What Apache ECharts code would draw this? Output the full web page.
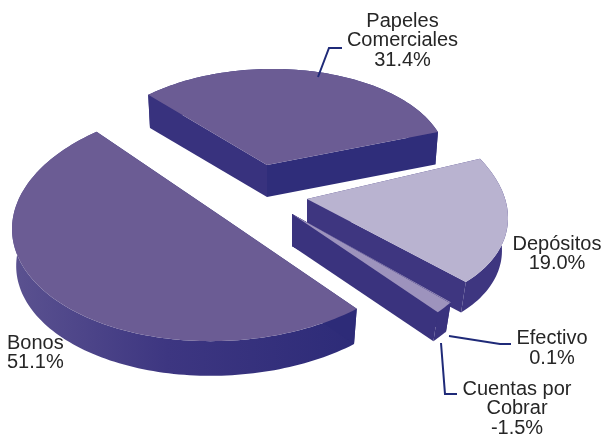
<!DOCTYPE html>
<html>
<head>
<meta charset="utf-8">
<style>html,body{margin:0;padding:0;background:#fff}#chart{width:603px;height:434px}</style>
<script src="https://cdn.jsdelivr.net/npm/echarts@6/dist/echarts.min.js"></script>
</head>
<body>
<div id="chart"></div>
<script>
// Composition of the portfolio, in percent
var sliceNames = ['Bonos', 'Papeles Comerciales', 'Depósitos', 'Efectivo', 'Cuentas por Cobrar'];
var sliceShares = [51.1, 31.4, 19.0, 0.1, -1.5];

// Text blocks shown beside the slices
var labelLines = [
  ['Bonos', '51.1%'],
  ['Papeles', 'Comerciales', '31.4%'],
  ['Depósitos', '19.0%'],
  ['Efectivo', '0.1%'],
  ['Cuentas por', 'Cobrar', '-1.5%']
];

// Projection of each exploded slice: centre, ellipse radii, shear, first angle, thickness, taper.
// The large slice folds at tipX/tipY so that its cut edge reads as one straight line.
var sliceFrames = [
  { cx: 221, cy: 223, a: 209, b: 118, k: -6, start: -49.5, depth: 37, taper: 0.98, tipX: 226, tipY: 219.5 },
  { cx: 267, cy: 165, a: 180, b: 96,  k: -3, start: 131.3, depth: 32, taper: 0.985 },
  { cx: 307, cy: 199, a: 201, b: 111, k: 19, start: 30.6,  depth: 33, taper: 0.97 },
  { cx: 292, cy: 214, a: 200, b: 136, k: 7,  start: -37.44, depth: 32, taper: 0.97 },
  { cx: 292, cy: 214, a: 200, b: 136, k: 7,  start: -37.8, depth: 32, taper: 0.97 }
];

var bondWall = new echarts.graphic.LinearGradient(0, 0, 1, 0, [
  { offset: 0, color: '#5b5290' },
  { offset: 0.45, color: '#3d3681' },
  { offset: 1, color: '#2d2b78' }
]);
var sliceStyles = [
  { top: '#6b5c94', arc: bondWall, near: '#2d2b78', far: '#2d2b78' },
  { top: '#6b5c94', arc: '#35307c', near: '#2f2d7a', far: '#38327e' },
  { top: '#b9b3d0', arc: '#3e3680', near: '#3e3680', far: '#3e3680' },
  { top: '#9d93bd', arc: '#3a337e', near: '#3a337e', far: '#3a337e' },
  { top: '#9d93bd', arc: '#3a337e', near: '#3a337e', far: '#3a337e' }
];

// Label placement: anchor point, alignment
var labelPlaces = [
  { x: 7, y: 343, align: 'left' },
  { x: 402.5, y: 21, align: 'center' },
  { x: 557, y: 244, align: 'center' },
  { x: 552, y: 338.5, align: 'center' },
  { x: 517, y: 389, align: 'center' }
];
var lineHeight = 19.5;

// Leader lines from slices to their labels
var leaders = [
  [[318, 77], [329, 48], [342, 48]],
  [[449, 336], [500, 344], [511, 344]],
  [[441, 343], [445, 394], [457, 394]]
];

function onRim(f, deg, lower) {
  var t = deg * Math.PI / 180, s = lower ? f.taper : 1;
  return [
    f.cx + s * f.a * Math.cos(t),
    f.cy + (lower ? f.depth : 0) + s * (f.k * Math.cos(t) - f.b * Math.sin(t))
  ];
}

function renderSlice(params, api) {
  var i = api.value(0);
  var share = api.value(1);
  var f = sliceFrames[i], st = sliceStyles[i];
  var sweep = Math.abs(share) / 100 * 360;
  var steps = Math.max(2, Math.ceil(sweep / 1.5));
  var topArc = [], lowArc = [];
  for (var n = 0; n <= steps; n++) {
    var deg = f.start - sweep * n / steps;
    topArc.push(onRim(f, deg, false));
    lowArc.push(onRim(f, deg, true));
  }
  var tipX = f.tipX === undefined ? f.cx : f.tipX;
  var tipY = f.tipY === undefined ? f.cy : f.tipY;
  var apex = [tipX, tipY], lowApex = [tipX, tipY + f.depth];
  var poly = function (points, fill) {
    return { type: 'polygon', shape: { points: points }, style: { fill: fill, stroke: null } };
  };
  return {
    type: 'group',
    children: [
      poly(topArc.concat(lowArc.slice().reverse()), st.arc),
      poly([apex, topArc[0], lowArc[0], lowApex], st.far),
      poly([apex, topArc[steps], lowArc[steps], lowApex], st.near),
      poly([apex].concat(topArc), st.top)
    ]
  };
}

var labelGraphics = [];
labelLines.forEach(function (lines, i) {
  var p = labelPlaces[i];
  lines.forEach(function (line, j) {
    labelGraphics.push({
      type: 'text', x: p.x, y: p.y + j * lineHeight, z: 10,
      style: {
        text: line, fill: '#262626', align: p.align, verticalAlign: 'middle',
        font: '20px "Liberation Sans", Arial, sans-serif'
      }
    });
  });
});
leaders.forEach(function (pts) {
  labelGraphics.push({
    type: 'polyline', z: 9, shape: { points: pts },
    style: { stroke: '#1f2a78', lineWidth: 2, fill: null }
  });
});

var chart = echarts.init(document.getElementById('chart'), null, { renderer: 'canvas' });
chart.setOption({
  animation: false,
  backgroundColor: '#ffffff',
  graphic: { elements: labelGraphics },
  series: [{
    type: 'custom',
    coordinateSystem: 'none',
    renderItem: renderSlice,
    encode: { tooltip: 1 },
    data: sliceShares.map(function (v, i) { return { name: sliceNames[i], value: [i, v] }; })
  }]
});
</script>
</body>
</html>
